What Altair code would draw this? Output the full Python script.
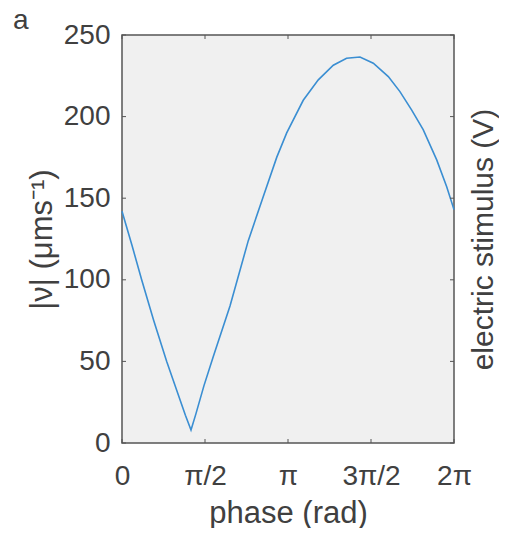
import math
import altair as alt
import pandas as pd

# ---- data ----
phase = [0.0, 0.19, 0.372, 0.6, 0.846, 1.05, 1.2, 1.306, 1.4, 1.55, 1.728, 2.044,
         2.39, 2.674, 2.928, 3.117, 3.43, 3.715, 3.999, 4.25, 4.504, 4.756, 5.04,
         5.26, 5.483, 5.70, 5.956, 6.145, 6.283]
speed = [142, 121, 100, 75, 50, 31, 17, 8, 18, 35, 53, 84,
         124, 151, 175, 190, 210, 222.5, 231.5, 235.8, 236.5, 232.7, 224.5,
         215.3, 204, 192, 173.5, 157, 143]

y_ticks = [0, 50, 100, 150, 200, 250]
x_ticks = [0, math.pi / 2, math.pi, 3 * math.pi / 2, 2 * math.pi]
x_tick_labels = ["0", "π/2", "π", "3π/2", "2π"]
panel_label = ["a"]

W, H = 332, 408
FONT = "Liberation Sans"
TXT = "#404040"
FRAME = "#555555"
LINE = "#3a8ed2"

df = pd.DataFrame({"phase": phase, "speed": speed})
yt = pd.DataFrame({"v": y_ticks})
xt = pd.DataFrame({"v": x_ticks})
lab = pd.DataFrame({"t": panel_label})

label_expr = "[" + ",".join("'" + s + "'" for s in x_tick_labels) + "][round(datum.value*2/PI)]"

xscale = alt.Scale(domain=[0, 2 * math.pi], nice=False, zero=False)
yscale = alt.Scale(domain=[0, 250], nice=False)

line = alt.Chart(df).mark_line(color=LINE, strokeWidth=1.6).encode(
    x=alt.X("phase:Q", scale=xscale,
            axis=alt.Axis(values=x_ticks, labelExpr=label_expr, ticks=False, tickSize=0,
                          domain=False, grid=False, labelFontSize=28, labelFont=FONT,
                          labelColor=TXT, labelPadding=19, labelBaseline="top",
                          labelFlush=False, labelOverlap=False,
                          title="phase (rad)", titleFontSize=31, titleFont=FONT,
                          titleColor=TXT, titleFontWeight="normal",
                          titleX=W / 2, titleY=79, titleBaseline="alphabetic",
                          titleAlign="center")),
    y=alt.Y("speed:Q", scale=yscale,
            axis=alt.Axis(values=y_ticks, ticks=False, tickSize=0, domain=False,
                          grid=False, labelFontSize=28, labelFont=FONT, labelColor=TXT,
                          labelPadding=12, labelBaseline="middle", labelFlush=False,
                          labelOverlap=False,
                          title="|ν| (μms⁻¹)", titleFontSize=31, titleFont=FONT,
                          titleColor=TXT, titleFontWeight="normal", titleAngle=270,
                          titleX=-71, titleY=H / 2, titleBaseline="alphabetic",
                          titleAlign="center")),
)

left_ticks = alt.Chart(yt).mark_rule(color=FRAME, strokeWidth=1).encode(
    y=alt.Y("v:Q", scale=yscale), x=alt.value(0), x2=alt.value(4))
bottom_ticks = alt.Chart(xt).mark_rule(color=FRAME, strokeWidth=1).encode(
    x=alt.X("v:Q", scale=xscale), y=alt.value(H - 4), y2=alt.value(H))
top_ticks = alt.Chart(xt).mark_rule(color=FRAME, strokeWidth=1).encode(
    x=alt.X("v:Q", scale=xscale), y=alt.value(0), y2=alt.value(4))

label_a = alt.Chart(lab).mark_text(
    align="left", baseline="alphabetic", fontSize=28, font=FONT, color=TXT
).encode(text="t:N", x=alt.value(-109), y=alt.value(-6))

inner = alt.layer(line, left_ticks, bottom_ticks, top_ticks, label_a)

right_axis = alt.Chart(yt).mark_rule(color=FRAME, strokeWidth=1).encode(
    y=alt.Y("v:Q", scale=yscale,
            axis=alt.Axis(orient="right", labels=False, ticks=False, domain=False,
                          grid=False, title="electric stimulus (V)", titleFontSize=30,
                          titleFont=FONT, titleColor=TXT, titleFontWeight="normal",
                          titleAngle=270, titleX=38, titleY=H / 2,
                          titleBaseline="alphabetic", titleAlign="center")),
    x=alt.value(W - 4), x2=alt.value(W),
)

chart = alt.layer(inner, right_axis).resolve_axis(
    y="independent"
).properties(
    width=W, height=H,
    autosize=alt.AutoSizeParams(type="none"),
    padding={"left": 114, "top": 27, "right": 45, "bottom": 85},
    background="white",
).configure_view(fill="#f0f0f0", stroke=FRAME, strokeWidth=1.5)

chart.save("out.html", embed_options={"renderer": "svg", "actions": False})
